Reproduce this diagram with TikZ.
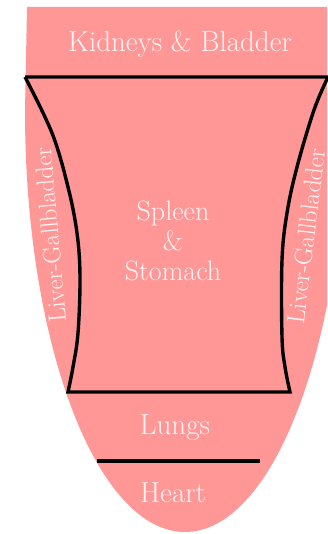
\documentclass[tikz,border=0pt]{standalone}
\usepackage{tikz}
\usetikzlibrary{positioning}
\definecolor{tongue}{HTML}{FF9797}
\definecolor{organtext}{HTML}{FFF4F4}
\tikzset{
  tzone/.style={fill=tongue,draw=none},
  tline/.style={line width=3.4pt,draw=black,line join=miter},
  tlabel/.style={text=organtext,font=\fontsize{29}{31}\selectfont,align=center,inner sep=0pt},
  tside/.style={text=organtext,font=\fontsize{25}{27}\selectfont,inner sep=0pt}
}
\begin{document}
\begin{tikzpicture}[x=1pt,y=-1pt]
  \useasboundingbox (0,0) rectangle (327,534);
  \begin{scope}
    \clip (0,0) rectangle (327,534);
    \fill[tzone] (27,7) -- (25,111) arc[start angle=180,end angle=0,x radius=160,y radius=421] -- (345,7) -- cycle;
  \end{scope}
  \node[tlabel] (kidneys) at (180,44) {Kidneys \& Bladder};
  \node[tlabel,font=\fontsize{28}{30}\selectfont] (spleen) at (173,241) {Spleen\\\&\\Stomach};
  \node[tside,rotate=95] (liverl) at (50,235) {Liver-Gallbladder};
  \node[tside,rotate=83] (liverr) at (306,236) {Liver-Gallbladder};
  \node[tlabel] (lungs) at (175,428) {Lungs};
  \node[tlabel] (heart) at (173,493) {Heart};
  \draw[tline] (25,77) -- (328,77)
    -- plot[smooth,tension=0.6] coordinates {(328,77) (314,110) (297,167) (287,213) (282,260) (282,337) (285,367) (290,392)}
    -- (68,392)
    -- plot[smooth,tension=0.6] coordinates {(68,392) (73,367) (78,333) (80,277) (77,233) (68,187) (52,133) (25,77)};
  \draw[tline] (97,461) -- (260,461);
\end{tikzpicture}
\end{document}
